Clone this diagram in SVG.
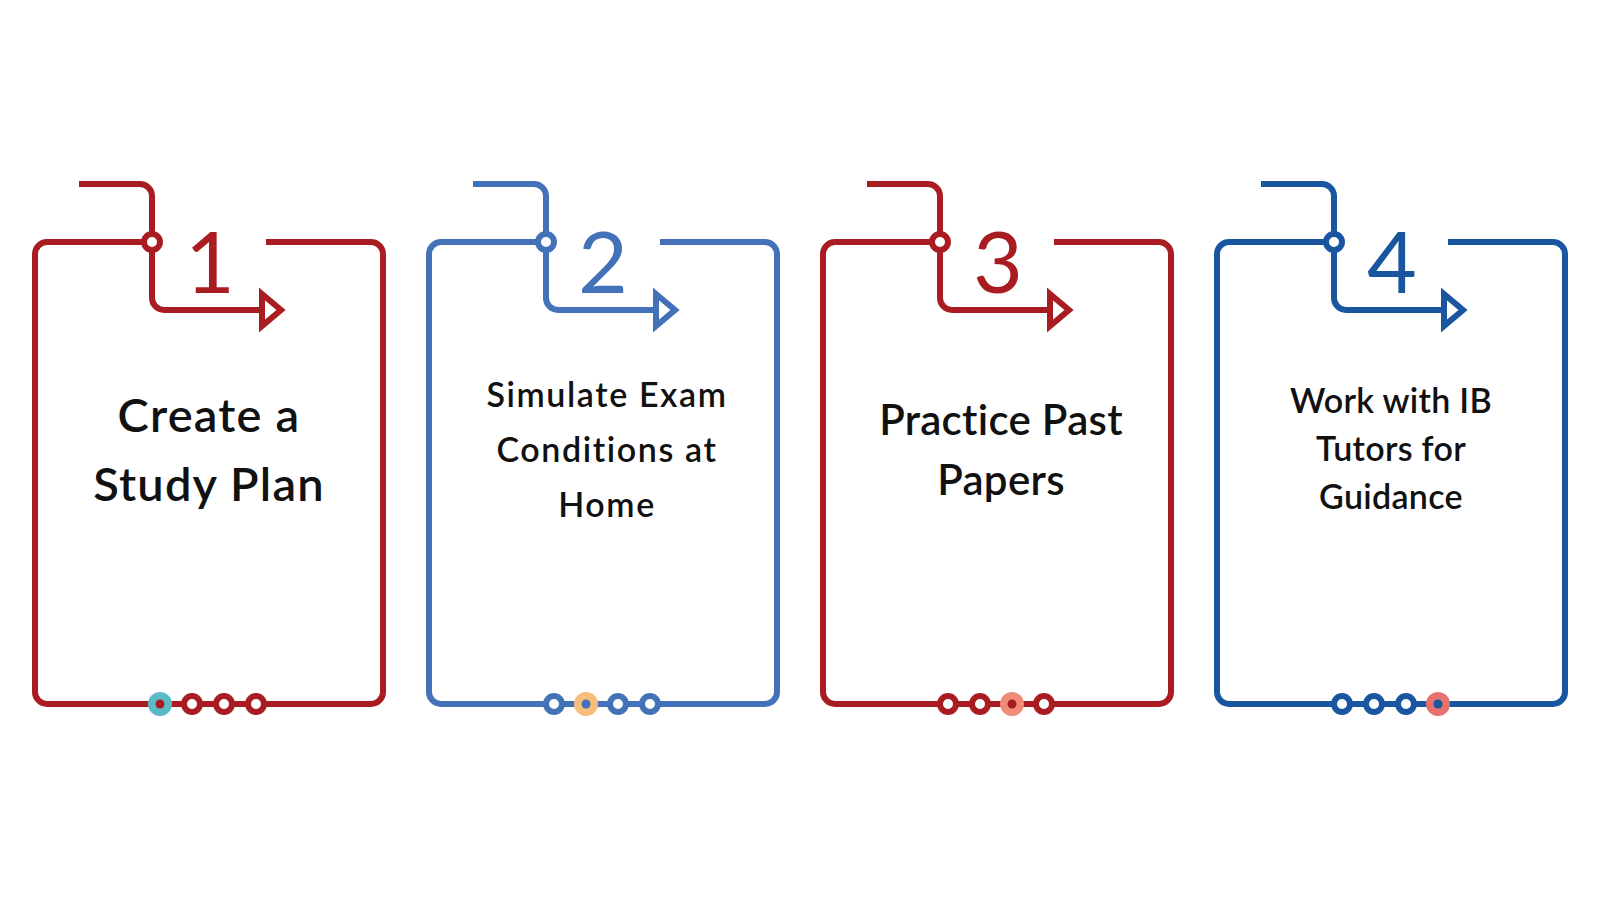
<svg xmlns="http://www.w3.org/2000/svg" width="1600" height="900" viewBox="0 0 1600 900">
<style>
.ln{fill:none;stroke-width:6;stroke-linecap:butt;stroke-linejoin:round}
.tri{fill:#fff;stroke-width:6;stroke-linejoin:miter}
.ring{fill:#fff;stroke-width:6}
.num{font-family:Lato,"Liberation Sans",sans-serif;font-size:86px;text-anchor:middle}
.lbl{font-family:Lato,"Liberation Sans",sans-serif;font-weight:600;fill:#111;text-anchor:middle}
.red{stroke:#A91D22}
.redf{fill:#A91D22}
.blu{stroke:#4372B8}
.bluf{fill:#4372B8}
.dbl{stroke:#1A56A0}
.dblf{fill:#1A56A0}
</style>
<defs>
<path id="entry" d="M44 184H105A12 12 0 0 1 117 196V298A12 12 0 0 0 129 310H227"/>
<path id="frame" d="M231 242H336A12 12 0 0 1 348 254V692A12 12 0 0 1 336 704H12A12 12 0 0 1 0 692V254A12 12 0 0 1 12 242H117"/>
<polygon id="tri" points="227,294 246,310 227,326"/>
</defs>
<rect width="1600" height="900" fill="#fff"/>

<g id="card1" transform="translate(35,0)">
<use href="#frame" class="ln red"/>
<use href="#entry" class="ln red"/>
<use href="#tri" class="tri red"/>
<circle cx="117" cy="242" r="8" class="ring red"/>
<text x="175" y="293" class="num redf">1</text>
<circle cx="125" cy="704" r="12" fill="#5BBAC6"/>
<circle cx="125" cy="704" r="4.5" class="redf"/>
<circle cx="157" cy="704" r="8" class="ring red"/>
<circle cx="189" cy="704" r="8" class="ring red"/>
<circle cx="221" cy="704" r="8" class="ring red"/>
<text class="lbl" font-size="47" letter-spacing="1.2"><tspan x="174" y="432">Create a</tspan><tspan x="174" y="501">Study Plan</tspan></text>
</g>

<g id="card2" transform="translate(429,0)">
<use href="#frame" class="ln blu"/>
<use href="#entry" class="ln blu"/>
<use href="#tri" class="tri blu"/>
<circle cx="117" cy="242" r="8" class="ring blu"/>
<text x="174" y="293" class="num bluf">2</text>
<circle cx="125" cy="704" r="8" class="ring blu"/>
<circle cx="157" cy="704" r="12" fill="#F6BD7C"/>
<circle cx="157" cy="704" r="4.5" class="bluf"/>
<circle cx="189" cy="704" r="8" class="ring blu"/>
<circle cx="221" cy="704" r="8" class="ring blu"/>
<text class="lbl" font-size="34" letter-spacing="1.6"><tspan x="178" y="407">Simulate Exam</tspan><tspan x="178" y="462">Conditions at</tspan><tspan x="178" y="517">Home</tspan></text>
</g>

<g id="card3" transform="translate(823,0)">
<use href="#frame" class="ln red"/>
<use href="#entry" class="ln red"/>
<use href="#tri" class="tri red"/>
<circle cx="117" cy="242" r="8" class="ring red"/>
<text x="175" y="293" class="num redf">3</text>
<circle cx="125" cy="704" r="8" class="ring red"/>
<circle cx="157" cy="704" r="8" class="ring red"/>
<circle cx="189" cy="704" r="12" fill="#EE8B79"/>
<circle cx="189" cy="704" r="4.5" class="redf"/>
<circle cx="221" cy="704" r="8" class="ring red"/>
<text class="lbl" font-size="42" letter-spacing="0.3"><tspan x="178" y="435">Practice Past</tspan><tspan x="178" y="495">Papers</tspan></text>
</g>

<g id="card4" transform="translate(1217,0)">
<use href="#frame" class="ln dbl"/>
<use href="#entry" class="ln dbl"/>
<use href="#tri" class="tri dbl"/>
<circle cx="117" cy="242" r="8" class="ring dbl"/>
<text x="175" y="293" class="num dblf">4</text>
<circle cx="125" cy="704" r="8" class="ring dbl"/>
<circle cx="157" cy="704" r="8" class="ring dbl"/>
<circle cx="189" cy="704" r="8" class="ring dbl"/>
<circle cx="221" cy="704" r="12" fill="#E7716B"/>
<circle cx="221" cy="704" r="4.5" class="dblf"/>
<text class="lbl" font-size="34" letter-spacing="0.3"><tspan x="174" y="413">Work with IB</tspan><tspan x="174" y="461">Tutors for</tspan><tspan x="174" y="509">Guidance</tspan></text>
</g>
</svg>
